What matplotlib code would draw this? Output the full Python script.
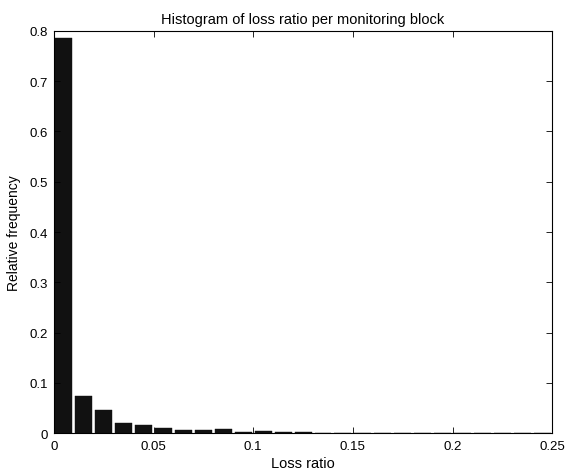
import matplotlib.pyplot as plt
import numpy as np

plt.rcParams['font.family'] = ['Liberation Sans', 'DejaVu Sans']

# bin centres (0.01 wide) and relative frequency
bin_centres = np.arange(0.005, 0.25, 0.01)
rel_freq = [0.786, 0.074, 0.046, 0.020, 0.017, 0.010, 0.006, 0.006, 0.008, 0.002,
            0.004, 0.0015, 0.0015, 0.0005, 0.0005, 0.0005, 0.0005, 0.0005, 0.0005, 0.0003,
            0.0, 0.0, 0.0, 0.0, 0.0]
x_ticks = [0, 0.05, 0.1, 0.15, 0.2, 0.25]
y_ticks = [0, 0.1, 0.2, 0.3, 0.4, 0.5, 0.6, 0.7, 0.8]

fig = plt.figure(figsize=(5.67, 4.77), dpi=100)
ax = fig.add_axes([0.095, 0.090, 0.879, 0.843])

ax.bar(bin_centres, rel_freq, width=0.0085, color='#111111', edgecolor='#111111', linewidth=0.3)

ax.set_xlim(0, 0.25)
ax.set_ylim(0, 0.8)
ax.set_xticks(x_ticks)
ax.set_xticklabels(['0', '0.05', '0.1', '0.15', '0.2', '0.25'])
ax.set_yticks(y_ticks)
ax.set_yticklabels(['0', '0.1', '0.2', '0.3', '0.4', '0.5', '0.6', '0.7', '0.8'])
ax.tick_params(direction='in', top=True, right=True, labelsize=9.5, length=4, width=0.6)
ax.tick_params(axis='x', pad=5)
ax.tick_params(axis='y', pad=4)
for s in ax.spines.values():
    s.set_linewidth(0.8)

ax.set_title('Histogram of loss ratio per monitoring block', fontsize=10.5, pad=6)
ax.set_xlabel('Loss ratio', fontsize=10.5, labelpad=3)
ax.set_ylabel('Relative frequency', fontsize=10, labelpad=6)

fig.savefig('out.png', dpi=100)
